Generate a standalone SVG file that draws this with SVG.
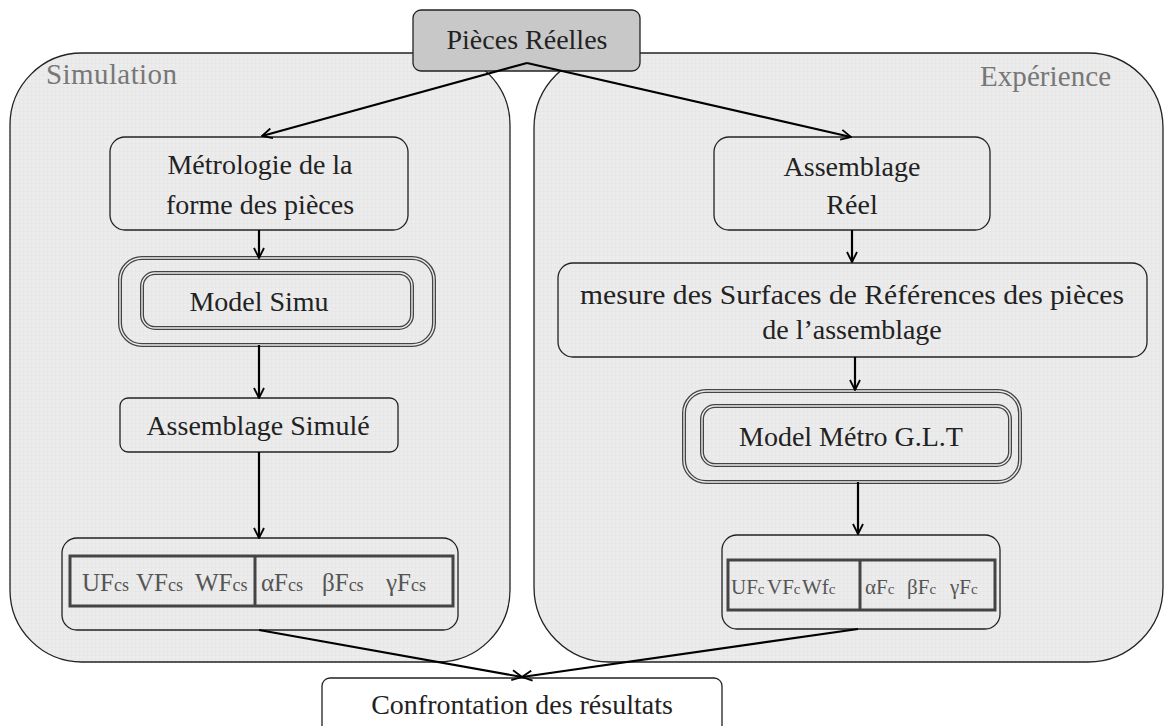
<svg xmlns="http://www.w3.org/2000/svg" width="1166" height="726" viewBox="0 0 1166 726">
<defs>
<pattern id="grid" width="4" height="4" patternUnits="userSpaceOnUse">
<rect width="4" height="4" fill="#ececec"/>
<path d="M4,0 V4 M0,4 H4" stroke="#dedede" stroke-width="0.6"/>
</pattern>
<marker id="arr" viewBox="0 0 12 12" refX="11" refY="6" markerWidth="12" markerHeight="12" markerUnits="userSpaceOnUse" orient="auto">
<path d="M1,1 L11,6 L1,11" fill="none" stroke="#000" stroke-width="1.8"/>
</marker>
<style>
.cont{fill:url(#grid);stroke:#222;stroke-width:1.3}
.box{fill:none;stroke:#222;stroke-width:1.3}
.dbl{fill:none;stroke:#444;stroke-width:4}
.dbli{fill:none;stroke:#ececec;stroke-width:1.4}
.tbl{fill:none;stroke:#444;stroke-width:3}
.t{font-family:"Liberation Serif",serif;font-size:28px;fill:#222;text-anchor:middle}
.lab{font-family:"Liberation Serif",serif;font-size:29px;fill:#777}
.r{font-family:"Liberation Serif",serif;font-size:25px;fill:#555}
.r2{font-family:"Liberation Serif",serif;font-size:21px;fill:#555}
.sub{font-size:18px}
.sub2{font-size:15px}
.c{fill:none;stroke:#000;stroke-width:2.2;marker-end:url(#arr)}
</style>
</defs>
<rect width="1166" height="726" fill="#fff"/>

<g id="simulation">
<rect class="cont" x="10" y="53" width="500" height="609" rx="72" ry="72"/>
<text class="lab" x="46" y="84" textLength="131">Simulation</text>
</g>
<g id="experience">
<rect class="cont" x="534" y="53" width="629" height="609" rx="75" ry="75"/>
<text class="lab" x="980" y="86" textLength="131">Expérience</text>
</g>

<g id="pieces">
<rect x="413" y="10" width="227" height="61" rx="8" fill="#c8c8c8" stroke="#222" stroke-width="1.3"/>
<text class="t" x="527" y="49">Pièces Réelles</text>
</g>

<g id="metrologie">
<rect class="box" x="110" y="137" width="298" height="93" rx="15"/>
<text class="t" x="260" y="174">Métrologie de la</text>
<text class="t" x="260" y="214">forme des pièces</text>
</g>

<g id="modelsimu">
<rect class="dbl" x="120" y="258" width="314" height="87" rx="22"/>
<rect class="dbli" x="120" y="258" width="314" height="87" rx="22"/>
<rect class="dbl" x="142" y="273" width="270" height="55" rx="13"/>
<rect class="dbli" x="142" y="273" width="270" height="55" rx="13"/>
<text class="t" x="259" y="311">Model Simu</text>
</g>

<g id="assemblagesimule">
<rect class="box" x="120" y="398" width="278" height="54" rx="8"/>
<text class="t" x="258" y="435">Assemblage Simulé</text>
</g>

<g id="resultsim">
<rect class="box" x="62" y="538" width="396" height="92" rx="15"/>
<rect class="tbl" x="70" y="556" width="383" height="50"/>
<line x1="255" y1="556" x2="255" y2="606" stroke="#444" stroke-width="3"/>
<text class="r" y="591"><tspan x="82">UF</tspan><tspan class="sub">cs</tspan><tspan x="136">VF</tspan><tspan class="sub">cs</tspan><tspan x="195">WF</tspan><tspan class="sub">cs</tspan></text>
<text class="r" y="591"><tspan x="261">αF</tspan><tspan class="sub">cs</tspan><tspan x="322">βF</tspan><tspan class="sub">cs</tspan><tspan x="386">γF</tspan><tspan class="sub">cs</tspan></text>
</g>

<g id="assemblagereel">
<rect class="box" x="714" y="137" width="276" height="93" rx="15"/>
<text class="t" x="852" y="176">Assemblage</text>
<text class="t" x="852" y="214">Réel</text>
</g>

<g id="mesure">
<rect class="box" x="558" y="263" width="589" height="94" rx="15"/>
<text class="t" x="852" y="304" textLength="544" lengthAdjust="spacingAndGlyphs">mesure des Surfaces de Références des pièces</text>
<text class="t" x="852" y="339">de l’assemblage</text>
</g>

<g id="modelmetro">
<rect class="dbl" x="684" y="391" width="336" height="91" rx="22"/>
<rect class="dbli" x="684" y="391" width="336" height="91" rx="22"/>
<rect class="dbl" x="702" y="406" width="308" height="59" rx="13"/>
<rect class="dbli" x="702" y="406" width="308" height="59" rx="13"/>
<text class="t" x="851" y="446" font-size="27">Model Métro G.L.T</text>
</g>

<g id="resultexp">
<rect class="box" x="722" y="535" width="278" height="94" rx="15"/>
<rect class="tbl" x="728" y="560" width="267" height="50"/>
<line x1="860" y1="560" x2="860" y2="610" stroke="#444" stroke-width="3"/>
<text class="r2" y="594"><tspan x="731">UF</tspan><tspan class="sub2">c</tspan><tspan x="767">VF</tspan><tspan class="sub2">c</tspan><tspan x="802">Wf</tspan><tspan class="sub2">c</tspan></text>
<text class="r2" y="594"><tspan x="865">αF</tspan><tspan class="sub2">c</tspan><tspan x="907">βF</tspan><tspan class="sub2">c</tspan><tspan x="950">γF</tspan><tspan class="sub2">c</tspan></text>
</g>

<g id="confrontation">
<rect x="322" y="678" width="400" height="60" rx="8" fill="#fff" stroke="#222" stroke-width="1.3"/>
<text class="t" x="522" y="714" font-size="29">Confrontation des résultats</text>
</g>

<g id="connectors">
<line class="c" x1="527" y1="63" x2="262" y2="136"/>
<line class="c" x1="527" y1="63" x2="851" y2="137"/>
<line class="c" x1="259" y1="230" x2="259" y2="258"/>
<line class="c" x1="259" y1="345" x2="259" y2="398"/>
<line class="c" x1="259" y1="452" x2="259" y2="538"/>
<line class="c" x1="852" y1="230" x2="852" y2="262"/>
<line class="c" x1="855" y1="357" x2="855" y2="390"/>
<line class="c" x1="858" y1="482" x2="858" y2="534"/>
<line class="c" x1="259" y1="630" x2="522" y2="677"/>
<line class="c" x1="858" y1="629" x2="522" y2="677"/>
</g>
</svg>
